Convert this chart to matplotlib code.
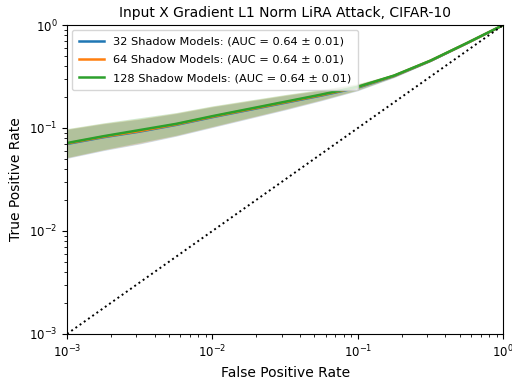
import numpy as np
import matplotlib
matplotlib.use("Agg")
import matplotlib.pyplot as plt

# data (log10 values)
fpr_log = [-3.0, -2.75, -2.5, -2.25, -2.0, -1.75, -1.5, -1.25, -1.0, -0.75, -0.5, -0.25, 0.0]
tpr_log_128 = [-1.146, -1.08, -1.02, -0.96, -0.885, -0.815, -0.745, -0.675, -0.60, -0.49, -0.345, -0.175, 0.0]
tpr_log_64 = [-1.15, -1.085, -1.03, -0.965, -0.89, -0.82, -0.75, -0.68, -0.603, -0.492, -0.346, -0.176, 0.0]
tpr_log_32 = [-1.155, -1.09, -1.035, -0.97, -0.895, -0.825, -0.755, -0.685, -0.608, -0.495, -0.348, -0.177, 0.0]
band_log = [0.14, 0.13, 0.12, 0.11, 0.10, 0.085, 0.07, 0.05, 0.03, 0.015, 0.008, 0.004, 0.0]

labels = ["32 Shadow Models: (AUC = 0.64 ± 0.01)",
          "64 Shadow Models: (AUC = 0.64 ± 0.01)",
          "128 Shadow Models: (AUC = 0.64 ± 0.01)"]
colors = ["#1f77b4", "#ff7f0e", "#2ca02c"]

fig = plt.figure(figsize=(5.12, 3.79), dpi=100)
ax = fig.add_axes([0.131, 0.119, 0.852, 0.815])

x = 10 ** np.array(fpr_log)
b = np.array(band_log)
for tl, c, lab in zip([tpr_log_32, tpr_log_64, tpr_log_128], colors, labels):
    t = np.array(tl)
    ax.fill_between(x, 10 ** (t - b), 10 ** (t + b), color=c, alpha=0.22, linewidth=0)
for tl, c, lab in zip([tpr_log_32, tpr_log_64, tpr_log_128], colors, labels):
    ax.plot(x, 10 ** np.array(tl), color=c, lw=1.8, label=lab)

ax.plot([1e-3, 1], [1e-3, 1], "k:", lw=1.4)
ax.set_xscale("log")
ax.set_yscale("log")
ax.set_xlim(1e-3, 1)
ax.set_ylim(1e-3, 1)
ax.set_xlabel("False Positive Rate", fontsize=10)
ax.set_ylabel("True Positive Rate", fontsize=10)
ax.set_title("Input X Gradient L1 Norm LiRA Attack, CIFAR-10", fontsize=10)
ax.tick_params(labelsize=8.5)
ax.legend(loc="upper left", fontsize=8.2, labelspacing=0.72, borderpad=0.62,
          handlelength=2.2, borderaxespad=0.4)

fig.savefig("out.png", dpi=100)
